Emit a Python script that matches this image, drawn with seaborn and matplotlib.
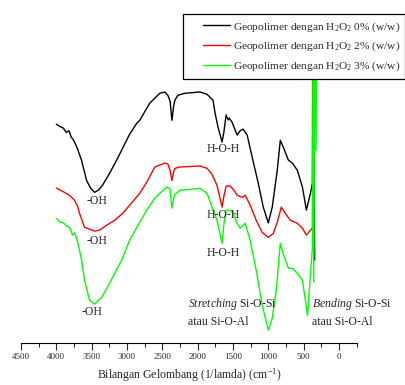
import numpy as np
import pandas as pd
import seaborn as sns
import matplotlib.pyplot as plt
from matplotlib.patches import Rectangle

# Spektrum FTIR geopolimer (satuan sembarang)
w_0 = [4000, 3950, 3900, 3860, 3820, 3790, 3760, 3730, 3700, 3643, 3572, 3516, 3459, 3402,
       3345, 3246, 3132, 3004, 2962, 2862, 2820, 2678, 2536, 2464, 2422, 2390, 2365, 2340,
       2322, 2280, 2180, 1967, 1868, 1783, 1754, 1712, 1655, 1630, 1598, 1570, 1555, 1513,
       1442, 1400, 1357, 1300, 1229, 1143, 1072, 1001, 945, 874, 831, 788, 717, 661, 590,
       518, 462, 405, 376, 372, 345]
t_0 = [66.5, 65.8, 65.3, 64.0, 64.5, 62.6, 61.8, 60.5, 59.0, 55.5, 49.4, 47.1, 45.8, 46.5,
       48.0, 51.6, 56.2, 61.7, 63.5, 66.8, 67.7, 72.9, 75.9, 76.3, 75.3, 73.5, 67.7, 72.0,
       73.8, 75.3, 75.9, 76.3, 75.6, 73.8, 69.9, 65.6, 61.1, 64.0, 69.3, 67.8, 68.4, 67.1,
       63.2, 64.5, 65.0, 63.2, 56.5, 48.6, 41.3, 36.5, 41.3, 52.5, 61.6, 59.5, 55.6, 54.7, 52.5,
       47.4, 40.4, 45.5, 48.6, 110, 25.2]

w_2 = [4000, 3950, 3885, 3850, 3814, 3780, 3743, 3700, 3672, 3601, 3530, 3459, 3388, 3288,
       3175, 3061, 2962, 2820, 2720, 2607, 2464, 2422, 2390, 2365, 2340, 2322, 2251, 1967,
       1868, 1797, 1726, 1655, 1630, 1598, 1541, 1484, 1442, 1371, 1328, 1257, 1172, 1087,
       1001, 930, 874, 817, 760, 689, 590, 518, 462, 405, 376, 366, 358]
t_2 = [47.1, 46.5, 45.8, 45.3, 44.9, 44.2, 43.4, 41.6, 39.4, 35.2, 34.6, 34.0, 34.3, 35.8,
       37.3, 39.4, 41.9, 45.5, 48.9, 53.5, 54.7, 54.4, 52.5, 49.4, 52.0, 53.1, 53.5, 53.8,
       53.1, 51.3, 47.9, 41.3, 44.5, 47.7, 47.7, 46.4, 44.9, 44.3, 44.9, 41.9, 37.3, 33.6,
       32.1, 33.3, 36.7, 41.3, 39.4, 37.3, 36.4, 34.9, 32.8, 34.3, 34.9, 110, 60]

w_3 = [4000, 3950, 3900, 3850, 3814, 3790, 3771, 3740, 3714, 3680, 3643, 3601, 3530, 3459,
       3359, 3274, 3203, 3075, 2962, 2820, 2720, 2607, 2536, 2436, 2393, 2365, 2340, 2322,
       2251, 1967, 1868, 1797, 1726, 1655, 1630, 1598, 1541, 1498, 1442, 1399, 1328, 1257,
       1172, 1087, 1001, 945, 888, 831, 774, 717, 661, 590, 518, 476, 447, 405, 376, 362,
       358, 340, 325, 315]
t_3 = [37.9, 36.8, 36.5, 35.5, 35.2, 34.0, 32.8, 33.5, 31.9, 29.0, 25.2, 19.1, 13.0, 11.8,
       13.9, 17.0, 20.0, 25.2, 31.3, 36.7, 40.4, 44.0, 45.5, 47.4, 46.8, 41.0, 44.0, 45.2,
       46.4, 47.0, 45.5, 41.3, 37.3, 30.3, 36.0, 40.4, 40.4, 39.5, 36.4, 34.9, 36.4, 31.2,
       22.1, 11.5, 3.9, 7.5, 16.0, 30.3, 26.1, 22.7, 22.7, 21.2, 19.1, 13.0, 8.4, 20.6, 29.1,
       110, 18.5, 110, 58.5, 110]

label_0 = 'Geopolimer dengan H$_2$O$_2$ 0% (w/w)'
label_2 = 'Geopolimer dengan H$_2$O$_2$ 2% (w/w)'
label_3 = 'Geopolimer dengan H$_2$O$_2$ 3% (w/w)'

df = pd.concat([
    pd.DataFrame({'w': w_0, 't': t_0, 'sampel': label_0}),
    pd.DataFrame({'w': w_2, 't': t_2, 'sampel': label_2}),
    pd.DataFrame({'w': w_3, 't': t_3, 'sampel': label_3}),
], ignore_index=True)

sns.set_style('white')
plt.rcParams['font.family'] = ['Liberation Serif', 'DejaVu Serif']
plt.rcParams['mathtext.fontset'] = 'custom'
plt.rcParams['mathtext.rm'] = 'Liberation Serif'
plt.rcParams['mathtext.it'] = 'Liberation Serif:italic'

fig = plt.figure(figsize=(4.06, 3.85), dpi=100)
ax = fig.add_axes([21 / 406, 42 / 385, (356.7 - 21) / 406, (343 - 14) / 385])

sns.lineplot(data=df, x='w', y='t', hue='sampel', sort=False, estimator=None,
             units='sampel', palette=['black', '#ff0000', '#00ff00'], lw=1.0,
             legend=False, ax=ax)

ax.set_xlim(4500, -250)
ax.set_ylim(0, 100)
ax.set_xticks(np.arange(4500, -1, -500))
ax.set_xticks(np.arange(4250, -300, -500), minor=True)
ax.tick_params(axis='x', which='major', direction='out', length=5, width=0.8,
               labelsize=6.5, pad=2, bottom=True)
ax.tick_params(axis='x', which='minor', direction='out', length=3, width=0.8, bottom=True)
ax.set_yticks([])
ax.set_ylabel('')
ax.set_xlabel('Bilangan Gelombang (1/lamda) (cm$^{-1}$)', fontsize=8.5, labelpad=4)
for s in ['left', 'right', 'top']:
    ax.spines[s].set_visible(False)
ax.spines['bottom'].set_color('black')
ax.spines['bottom'].set_linewidth(0.8)

fs = 8.5
ax.text(3430, 43.1, '-OH', fontsize=fs, ha='center', va='center')
ax.text(1640, 58.9, 'H-O-H', fontsize=fs, ha='center', va='center')
ax.text(3430, 30.9, '-OH', fontsize=fs, ha='center', va='center')
ax.text(1640, 38.8, 'H-O-H', fontsize=fs, ha='center', va='center')
ax.text(1640, 27.3, 'H-O-H', fontsize=fs, ha='center', va='center')
ax.text(3500, 9.3, '-OH', fontsize=fs, ha='center', va='center')
ax.text(2135, 12.0, r'$\it{Stretching}$ Si-O-Si', fontsize=fs, ha='left', va='center')
ax.text(2135, 6.3, 'atau Si-O-Al', fontsize=fs, ha='left', va='center')
ax.text(376, 12.0, r'$\it{Bending}$ Si-O-Si', fontsize=fs, ha='left', va='center', clip_on=False)
ax.text(376, 6.3, 'atau Si-O-Al', fontsize=fs, ha='left', va='center', clip_on=False)

# kotak legenda digambar terpisah supaya menutupi garis
kotak = Rectangle((183 / 406, 1 - 79 / 385), (405.5 - 183) / 406, 65 / 385,
                  transform=fig.transFigure, facecolor='white', edgecolor='black',
                  linewidth=0.9, zorder=3)
fig.add_artist(kotak)

leg = fig.legend(handles=ax.lines[:3], labels=[label_0, label_2, label_3],
                 loc='upper left', bbox_to_anchor=(203 / 406, 1 - 20 / 385),
                 fontsize=8.2, frameon=False,
                 handlelength=2.4, handletextpad=0.25, labelspacing=0.55,
                 borderpad=0, borderaxespad=0)
leg.set_zorder(5)

fig.savefig('out.png', dpi=100)
